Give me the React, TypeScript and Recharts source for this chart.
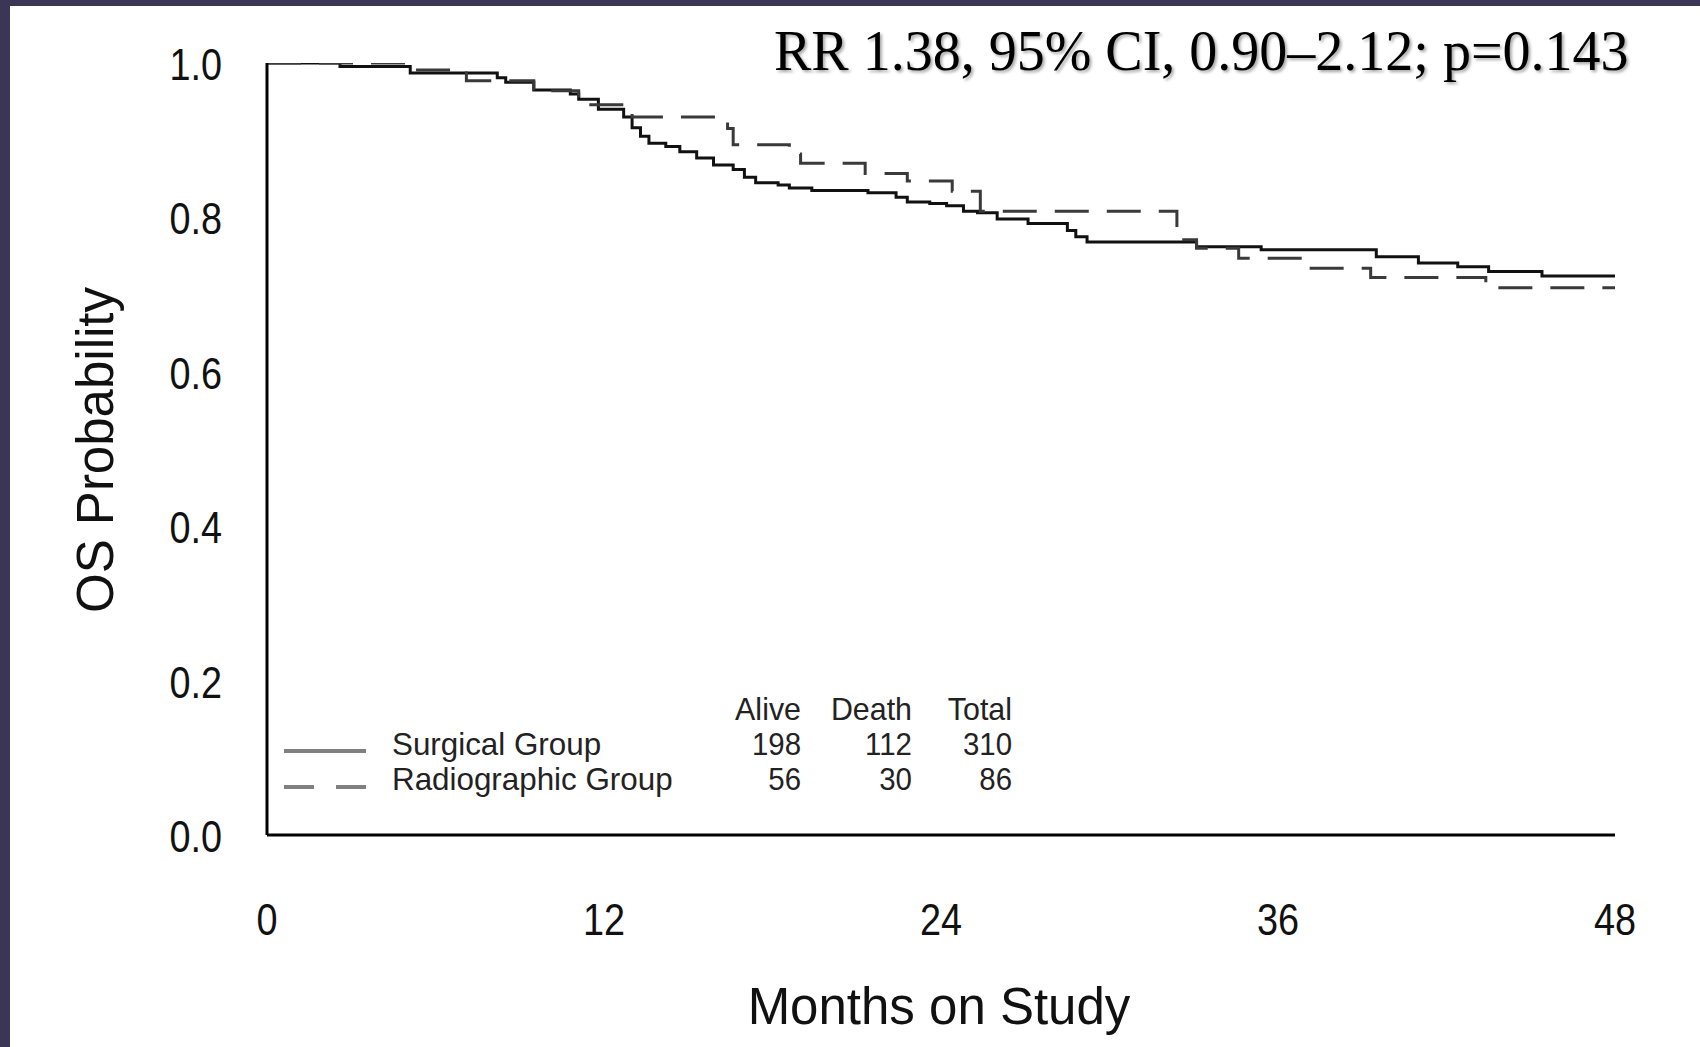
import { LineChart, Line, XAxis, YAxis } from 'recharts';

// Kaplan-Meier step points (month at which the probability changes)
const surgicalMonths = [0, 2.6, 5.1, 8.2, 8.5, 9.5, 10.8, 11.1, 11.8, 12.7, 13.0, 13.3, 13.6, 14.2, 14.7, 15.3, 15.9, 16.6, 17.0, 17.4, 18.2, 18.6, 19.4, 21.4, 22.4, 22.8, 23.6, 24.2, 24.8, 25.3, 26.0, 27.1, 28.5, 28.8, 29.2, 33.1, 35.4, 39.5, 41.0, 42.4, 43.5, 45.4, 48];
const surgicalProb = [1.0, 0.9955, 0.987, 0.981, 0.975, 0.965, 0.96, 0.953, 0.94, 0.93, 0.916, 0.905, 0.896, 0.892, 0.885, 0.877, 0.868, 0.862, 0.852, 0.845, 0.842, 0.838, 0.835, 0.832, 0.826, 0.82, 0.818, 0.815, 0.808, 0.806, 0.798, 0.792, 0.783, 0.775, 0.768, 0.762, 0.758, 0.749, 0.741, 0.736, 0.73, 0.724, 0.724];

const radioMonths = [0, 5.0, 7.1, 9.5, 11.1, 13.0, 16.4, 16.6, 18.6, 19.0, 21.3, 22.8, 24.4, 25.4, 32.4, 33.1, 34.6, 37.0, 39.3, 43.4, 48];
const radioProb = [1.0, 0.991, 0.977, 0.964, 0.946, 0.93, 0.915, 0.894, 0.882, 0.87, 0.857, 0.847, 0.834, 0.808, 0.771, 0.76, 0.747, 0.734, 0.722, 0.709, 0.709];

const xTicks = [0, 12, 24, 36, 48];
const yTicks = [0, 0.2, 0.4, 0.6, 0.8, 1.0];

const tableHeaders = ['Alive', 'Death', 'Total'];
const groupNames = ['Surgical Group', 'Radiographic Group'];
const groupCounts = [
  [198, 112, 310],
  [56, 30, 86],
];

const statText = 'RR 1.38, 95% CI, 0.90\u20132.12; p=0.143';

const surgicalData = surgicalMonths.map((m, i) => ({ month: m, prob: surgicalProb[i] }));
const radioData = radioMonths.map((m, i) => ({ month: m, prob: radioProb[i] }));

const W = 1700;
const H = 1047;
const PLOT_LEFT = 267;
const PLOT_RIGHT = 1615;
const PLOT_TOP = 63;
const PLOT_BOTTOM = 835;
const SANS = '"Liberation Sans", Arial, Helvetica, sans-serif';
const TABLE_COLS = [801, 912, 1012];

function YTick(props: any) {
  const { y, payload } = props;
  const rx = 222;
  return (
    <text
      x={rx}
      y={y + 17}
      textAnchor="end"
      fontSize={44}
      fontFamily={SANS}
      fill="#111"
      transform={`translate(${rx},0) scale(0.86,1) translate(${-rx},0)`}
    >
      {Number(payload.value).toFixed(1)}
    </text>
  );
}

function XTick(props: any) {
  const { x, payload } = props;
  return (
    <text
      x={x}
      y={PLOT_BOTTOM + 100}
      textAnchor="middle"
      fontSize={44}
      fontFamily={SANS}
      fill="#111"
      transform={`translate(${x},0) scale(0.86,1) translate(${-x},0)`}
    >
      {payload.value}
    </text>
  );
}

export default function App() {
  return (
    <div style={{ position: 'relative', width: W, height: H, background: '#fff', overflow: 'hidden' }}>
      <style>{`body{margin:0;}`}</style>
      <LineChart
        width={W}
        height={H}
        margin={{ top: PLOT_TOP, right: W - PLOT_RIGHT, bottom: H - PLOT_BOTTOM - 40, left: PLOT_LEFT - 60 }}
      >
        <XAxis
          dataKey="month"
          type="number"
          domain={[0, 48]}
          ticks={xTicks}
          height={40}
          axisLine={{ stroke: '#000', strokeWidth: 3 }}
          tickLine={false}
          tick={(p: any) => <XTick {...p} />}
          allowDataOverflow
        />
        <YAxis
          type="number"
          domain={[0, 1]}
          ticks={yTicks}
          width={60}
          axisLine={{ stroke: '#000', strokeWidth: 3 }}
          tickLine={false}
          tick={(p: any) => <YTick {...p} />}
          allowDataOverflow
        />
        <Line
          data={surgicalData}
          dataKey="prob"
          type="stepAfter"
          stroke="#111"
          strokeWidth={3}
          dot={false}
          isAnimationActive={false}
        />
        <Line
          data={radioData}
          dataKey="prob"
          type="stepAfter"
          stroke="#3a3a3a"
          strokeWidth={3}
          strokeDasharray="34 18"
          dot={false}
          isAnimationActive={false}
        />
      </LineChart>

      <svg width={W} height={H} style={{ position: 'absolute', left: 0, top: 0, pointerEvents: 'none' }}>
        <defs>
          <filter id="shadow" x="-5%" y="-20%" width="110%" height="150%">
            <feDropShadow dx="2" dy="2" stdDeviation="1.5" floodColor="#000" floodOpacity="0.35" />
          </filter>
        </defs>
        <text x={774} y={70} fontSize={56} fontFamily={'"Liberation Serif", "Times New Roman", serif'} fill="#000" filter="url(#shadow)">
          {statText}
        </text>

        <text
          x={0}
          y={0}
          transform={`translate(113,450) rotate(-90)`}
          textAnchor="middle"
          fontSize={51}
          fontFamily={SANS}
          fill="#111"
        >
          OS Probability
        </text>
        <text x={939} y={1024} textAnchor="middle" fontSize={51} fontFamily={SANS} fill="#111">
          Months on Study
        </text>

        {tableHeaders.map((h, i) => (
          <text key={h} x={TABLE_COLS[i]} y={720} textAnchor="end" fontSize={32} fontFamily={SANS} fill="#222"
            transform={`translate(${TABLE_COLS[i]},0) scale(0.95,1) translate(${-TABLE_COLS[i]},0)`}>
            {h}
          </text>
        ))}
        {groupNames.map((g, r) => (
          <g key={g}>
            <line
              x1={284}
              x2={366}
              y1={751 + r * 36}
              y2={751 + r * 36}
              stroke="#808080"
              strokeWidth={4}
              strokeDasharray={r === 1 ? '30 22' : undefined}
            />
            <text x={392} y={755 + r * 35} fontSize={32} fontFamily={SANS} fill="#222"
              transform={`translate(392,0) scale(0.98,1) translate(-392,0)`}>
              {g}
            </text>
            {groupCounts[r].map((v, c) => (
              <text key={c} x={TABLE_COLS[c]} y={755 + r * 35} textAnchor="end" fontSize={32} fontFamily={SANS} fill="#222"
                transform={`translate(${TABLE_COLS[c]},0) scale(0.92,1) translate(${-TABLE_COLS[c]},0)`}>
                {v}
              </text>
            ))}
          </g>
        ))}
      </svg>

      <div style={{ position: 'absolute', left: 0, top: 0, width: 10, height: H, background: '#3b3655' }} />
      <div style={{ position: 'absolute', left: 0, top: 0, width: W, height: 6, background: '#3b3655' }} />
    </div>
  );
}
